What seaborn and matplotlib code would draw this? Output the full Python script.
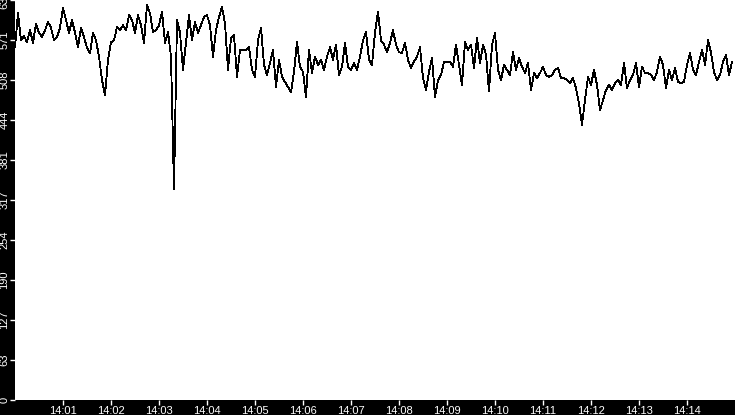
import numpy as np
import pandas as pd
import seaborn as sns
import matplotlib.pyplot as plt
import matplotlib.dates as mdates

# samples, one every 3.75 s starting 14:00:00
sec1 = [560, 614, 571, 578, 568, 587, 567, 597, 583, 576, 587, 600, 591, 571, 576, 591, 622, 603, 583, 603,
        583, 560, 591, 576, 559, 551, 583, 571, 545, 508, 484, 540, 568, 571, 592, 587, 595, 587, 611, 603]
sec2 = [583, 611, 595, 567, 627, 614, 584, 587, 595, 616, 567, 584, 545, 335, 603, 583, 524, 567, 611, 571,
        600, 583, 595, 608, 611, 595, 545, 587, 608, 624, 598, 524, 575, 579, 513, 556, 556, 556, 560, 524]
sec3 = [513, 571, 591, 532, 516, 535, 556, 497, 540, 513, 505, 497, 489, 521, 568, 529, 521, 481, 556, 519,
        545, 532, 540, 524, 545, 560, 540, 564, 516, 529, 567, 529, 524, 535, 524, 545, 571, 584, 540, 532]
sec4 = [583, 616, 571, 564, 552, 567, 587, 564, 552, 551, 567, 540, 527, 537, 545, 560, 511, 492, 521, 543,
        481, 508, 516, 537, 537, 537, 529, 564, 532, 500, 568, 556, 564, 527, 575, 535, 564, 548, 490, 564]
sec5 = [583, 524, 508, 532, 524, 516, 552, 524, 543, 529, 519, 535, 492, 519, 511, 519, 529, 516, 513, 516,
        524, 527, 511, 511, 508, 503, 511, 495, 471, 437, 476, 513, 500, 524, 500, 460, 476, 492, 500, 492]
sec6 = [503, 508, 500, 535, 495, 508, 516, 535, 497, 529, 519, 519, 516, 508, 521, 545, 532, 495, 524, 508,
        527, 505, 503, 505, 532, 551, 524, 516, 537, 556, 532, 571, 552, 521, 508, 516, 537, 548, 516, 537]
values = sec1 + sec2 + sec3 + sec4 + sec5 + sec6

times = pd.date_range('2024-01-01 14:00:00', periods=len(values), freq='3750ms')
ytick_vals = [0, 63.5, 127, 190.5, 254, 317.5, 381, 444.5, 508, 571.5, 635]
ytick_labels = ['0', '63', '127', '190', '254', '317', '381', '444', '508', '571', '635']

df = pd.DataFrame({'time': times, 'value': values})

sns.set_style('white')
plt.rcParams['font.family'] = ['Liberation Sans', 'DejaVu Sans']

fig = plt.figure(figsize=(7.35, 4.15), dpi=100, facecolor='black')
ax = fig.add_axes([15 / 735, 15 / 415, 720 / 735, 400 / 415])
ax.set_facecolor('white')

sns.lineplot(data=df, x='time', y='value', color='black', linewidth=0.6,
             antialiased=False, ax=ax)

ax.set_xlim(pd.Timestamp('2024-01-01 14:00:00'), pd.Timestamp('2024-01-01 14:15:00'))
ax.set_ylim(0, 635)
ax.set_yticks(ytick_vals)
ax.set_yticklabels(ytick_labels, rotation=90, va='center')
ax.xaxis.set_major_locator(mdates.MinuteLocator(byminute=range(1, 15)))
ax.xaxis.set_major_formatter(mdates.DateFormatter('%H:%M'))

ax.set_xlabel('')
ax.set_ylabel('')
for s in ax.spines.values():
    s.set_visible(False)
ax.tick_params(axis='both', colors='white', labelcolor='white', labelsize=8,
               direction='out', length=3.6, width=1, pad=0.5)
ax.tick_params(axis='both', which='both', bottom=True, left=True)

fig.savefig('out.png', dpi=100, facecolor='black')
